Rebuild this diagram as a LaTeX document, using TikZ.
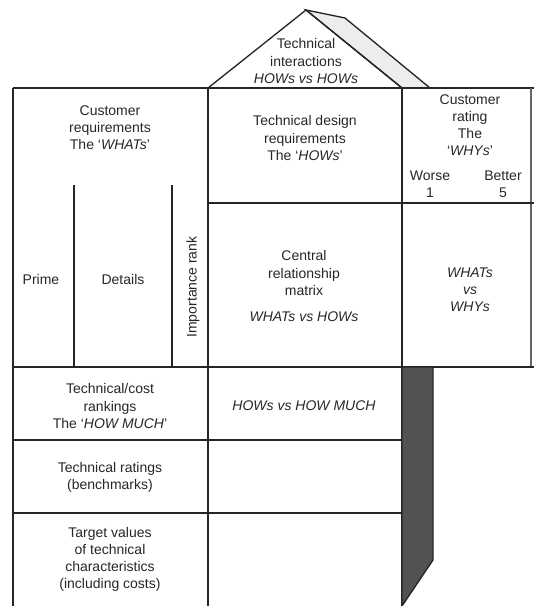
\documentclass[tikz,border=0pt]{standalone}
\usepackage{fontspec}
\setmainfont{Liberation Sans}
\begin{document}
\begin{tikzpicture}[x=0.75pt,y=-0.75pt,
  grid/.style={line width=1pt,draw=black!85},
  lbl/.style={align=center,font=\fontsize{10.5}{12.8}\selectfont,text=black!85,inner sep=0pt}]
\useasboundingbox (0,0) rectangle (534,606);
% roof
\filldraw[grid,fill=black!7] (306,10) -- (345,18) -- (430,88) -- (402,88) -- cycle;
\draw[grid] (208,88) -- (306,10) -- (402,88);
% main lines
\draw[grid] (13,88) -- (534,88);
\draw[grid] (13,88) -- (13,606);
\draw[grid] (208,88) -- (208,606);
\draw[grid] (402,88) -- (402,606);
\draw[line width=0.8pt,draw=black!60] (531,88) -- (531,367);
\draw[grid] (208,203) -- (534,203);
\draw[grid] (13,367) -- (534,367);
\draw[grid] (13,440) -- (402,440);
\draw[grid] (13,513) -- (402,513);
\draw[grid] (74,185) -- (74,367);
\draw[grid] (172,185) -- (172,367);
% dark prism
\filldraw[grid,fill=black!68] (402,367) -- (433,367) -- (433,560) -- (402,606) -- cycle;
% texts
\node[lbl] (roof) at (306,61) {Technical\\interactions\\\textit{HOWs vs HOWs}};
\node[lbl] (cr) at (110,128) {Customer\\requirements\\The ‘\textit{WHATs}’};
\node[lbl] (prime) at (41,279) {Prime};
\node[lbl] (det) at (123,279) {Details};
\node[lbl,rotate=90] (imp) at (193,287) {Importance rank};
\node[lbl] (tdr) at (305,138) {Technical design\\requirements\\The ‘\textit{HOWs}’};
\node[lbl] (crm) at (304,273) {Central\\relationship\\matrix};
\node[lbl] (wvh) at (304,317) {\textit{WHATs vs HOWs}};
\node[lbl] (crat) at (470,125.5) {Customer\\rating\\The\\‘\textit{WHYs}’};
\node[lbl] (worse) at (430,184.5) {Worse\\1};
\node[lbl] (better) at (503,184.5) {Better\\5};
\node[lbl] (wvw) at (470,290) {\textit{WHATs}\\\textit{vs}\\\textit{WHYs}};
\node[lbl] (tcr) at (110,406) {Technical/cost\\rankings\\The ‘\textit{HOW MUCH}’};
\node[lbl] (hvm) at (304,406) {\textit{HOWs vs HOW MUCH}};
\node[lbl] (trat) at (110,477.5) {Technical ratings\\(benchmarks)};
\node[lbl] (tv) at (110,559.5) {Target values\\of technical\\characteristics\\(including costs)};
\end{tikzpicture}
\end{document}
